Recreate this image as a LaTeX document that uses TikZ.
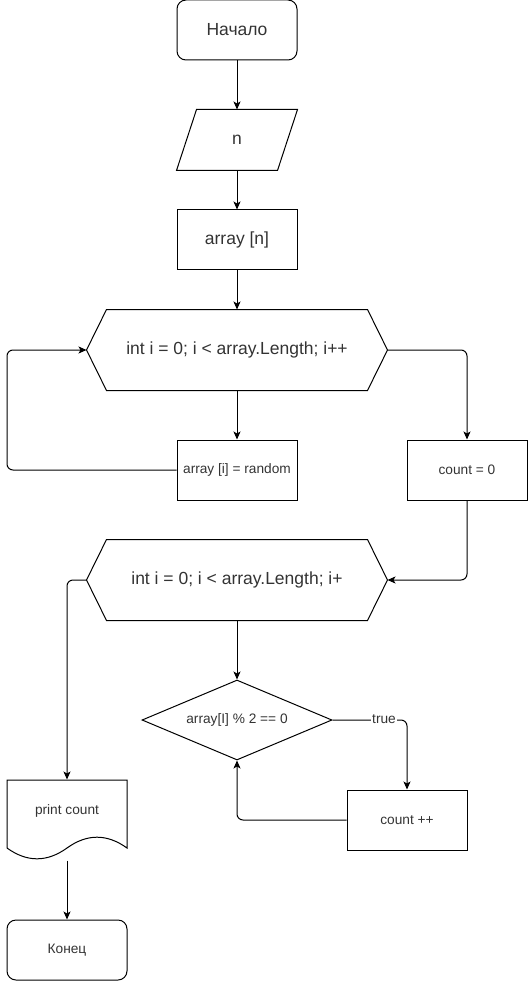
\documentclass[tikz,border=0pt]{standalone}
\usepackage{fontspec}
\setmainfont{Liberation Sans}
\usetikzlibrary{arrows.meta,shapes.geometric}
\definecolor{txt}{HTML}{333333}
\begin{document}
\begin{tikzpicture}[x=1pt,y=-1pt,
  every node/.style={text=txt, inner sep=0pt, line width=1pt},
  big/.style={font=\fontsize{17.5}{21}\selectfont},
  small/.style={font=\fontsize{13.7}{16}\selectfont},
  box/.style={draw, rectangle, minimum width=120pt, minimum height=60pt},
  rbox/.style={box, rounded corners=9pt},
  ghost/.style={rectangle, minimum width=#1, minimum height=60pt},
  hexnode/.style={rectangle, minimum width=300pt, minimum height=80pt},
  decide/.style={draw, diamond, shape aspect=2.375, minimum width=190pt, minimum height=80pt},
  outline/.style={line width=1pt, line join=miter},
  conn/.style={line width=1pt, rounded corners=6pt, -{Stealth[length=8pt,width=7pt,inset=2pt]}},
  lbl/.style={small, fill=white, inner sep=1pt}
]
\useasboundingbox (0,0) rectangle (528,981);

% nodes
\node[rbox, big] (start) at (237,30) {Начало};
\node[ghost=120pt, big] (n) at (237,140) {n};
\draw[outline] ([xshift=20pt]n.north west) -- (n.north east) -- ([xshift=-20pt]n.south east) -- (n.south west) -- cycle;
\node[box, big] (arr) at (237,240) {array [n]};

\node[hexnode, big] (h1) at (237,350) {int i = 0; i < array.Length; i++};
\draw[outline] (h1.west) -- ([xshift=20pt]h1.north west) -- ([xshift=-20pt]h1.north east) -- (h1.east) -- ([xshift=-20pt]h1.south east) -- ([xshift=20pt]h1.south west) -- cycle;

\node[box, small] (rnd) at (237,470) {array [i] = random};
\node[box, small] (cnt) at (467,470) {count = 0};

\node[hexnode, big] (h2) at (237,580) {int i = 0; i < array.Length; i+};
\draw[outline] (h2.west) -- ([xshift=20pt]h2.north west) -- ([xshift=-20pt]h2.north east) -- (h2.east) -- ([xshift=-20pt]h2.south east) -- ([xshift=20pt]h2.south west) -- cycle;

\node[decide, small] (dia) at (237,720) {array[I] \% 2 == 0};
\node[box, small] (inc) at (407,820) {count ++};

\node[rectangle, minimum width=120pt, minimum height=80pt, text depth=21pt, small] (doc) at (67,820) {print count};
\draw[outline] (7,780) -- (127,780) -- (127,848) .. controls (107,833.6) and (87,833.6) .. (67,848) .. controls (47,862.4) and (27,862.4) .. (7,848) -- cycle;

\node[rbox, small] (end) at (67,950) {Конец};

\coordinate (lb) at (7,410);

% connectors
\draw[conn] (start) -- (n);
\draw[conn] (n) -- (arr);
\draw[conn] (arr) -- (h1);
\draw[conn] (h1) -- (rnd);
\draw[conn] (rnd.west) -| (lb) |- (h1.west);
\draw[conn] (h1.east) -| (cnt.north);
\draw[conn] (cnt.south) |- (h2.east);
\draw[conn] (h2.west) -| (doc.north);
\draw[conn] (h2) -- (dia);
\draw[conn] (dia.east) -| (inc.north);
\node[lbl] (tl) at (384,719) {true};
\draw[conn] (inc.west) -| (dia.south);
\draw[conn] (doc.south) -- (end.north);
\end{tikzpicture}
\end{document}
